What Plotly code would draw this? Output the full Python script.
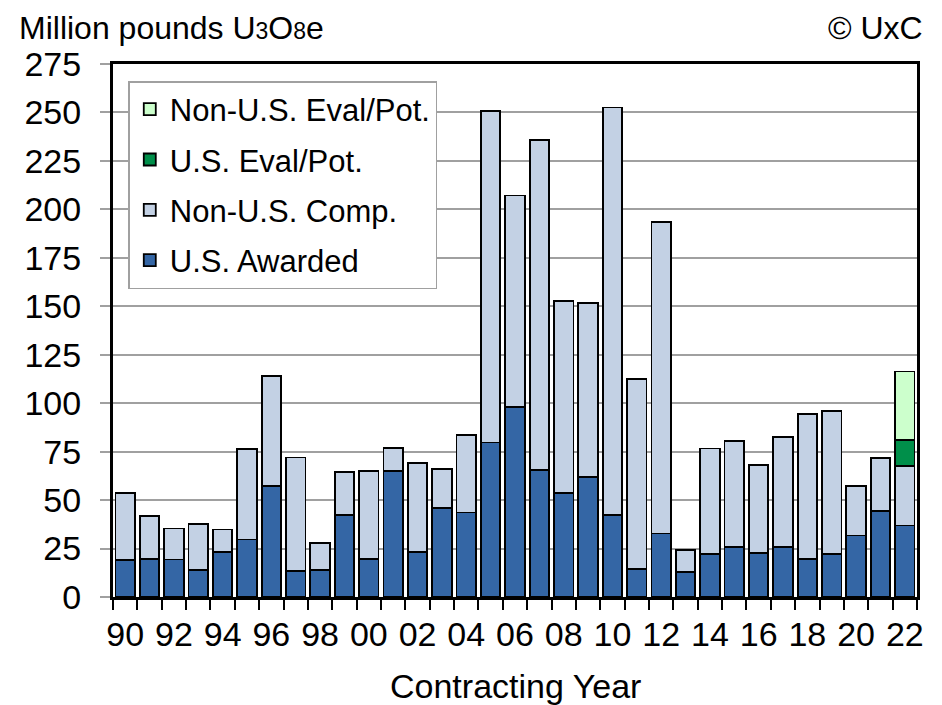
import plotly.graph_objects as go

# contracting years 1990-2022, values in million lb U3O8e
annees = [str(a)[-2:] for a in range(1990, 2023)]
etiquettes = [a if int(a) % 2 == 0 else "" for a in annees]

us_awarded = [19.0, 19.5, 19.3, 14.0, 23.3, 29.7, 57.4, 13.4, 13.8, 42.2,
              19.8, 65.0, 23.3, 45.9, 43.6, 79.7, 97.9, 65.7, 53.6, 62.0,
              42.4, 14.3, 32.8, 12.8, 22.2, 25.9, 22.8, 25.9, 19.5, 22.2,
              31.7, 44.3, 36.9]
non_us_comp = [34.6, 22.4, 16.0, 23.8, 11.5, 46.7, 56.6, 58.6, 14.1, 22.5,
               45.2, 11.9, 45.7, 20.0, 40.0, 171.2, 109.3, 170.0, 99.0, 89.6,
               210.2, 98.3, 160.6, 11.3, 54.4, 54.6, 45.3, 56.7, 75.0, 73.8,
               25.5, 27.4, 30.5]
us_eval = [None] * 32 + [13.8]
non_us_eval = [None] * 32 + [35.2]

series = [
    ("U.S. Awarded", us_awarded, "#3466a5"),
    ("Non-U.S. Comp.", non_us_comp, "#c3d1e4"),
    ("U.S. Eval/Pot.", us_eval, "#008f4a"),
    ("Non-U.S. Eval/Pot.", non_us_eval, "#ccffcc"),
]

POLICE = "Liberation Sans, Arial, sans-serif"

fig = go.Figure()
for rang, (nom, valeurs, couleur) in enumerate(series):
    fig.add_trace(go.Bar(
        x=annees, y=valeurs, name=nom, legendgroup=nom,
        legendrank=len(series) - rang,
        marker_color=couleur, marker_line_color="black", marker_line_width=1.8,
    ))

# la page ajoute 8px de marge autour du graphique
fig.update_layout(
    width=942, height=705,
    margin=dict(l=105, r=33, t=56, b=116),
    barmode="stack", bargap=0.2,
    plot_bgcolor="white", paper_bgcolor="white",
    font=dict(family=POLICE, color="black", size=34),
    showlegend=True,
    legend=dict(
        x=0.019, y=0.968, xanchor="left", yanchor="top",
        traceorder="grouped", tracegroupgap=7,
        font=dict(size=31), bgcolor="white",
        bordercolor="#a0a0a0", borderwidth=1.5,
    ),
)

fig.update_xaxes(
    type="category", tickmode="array", tickvals=annees, ticktext=etiquettes,
    tickson="boundaries", ticks="outside", ticklen=10, tickcolor="black",
    tickwidth=1.5, tickfont=dict(size=34), tickangle=0, ticklabelstandoff=5,
    showline=True, linecolor="black", linewidth=3, mirror=True,
    showgrid=False, automargin=False,
)
fig.update_yaxes(
    range=[0, 275], dtick=25, tick0=0,
    ticks="outside", ticklen=10, tickcolor="#a0a0a0", tickwidth=1.5,
    tickfont=dict(size=34), ticklabelstandoff=12,
    showgrid=True, gridcolor="#a0a0a0", gridwidth=1.5,
    showline=True, linecolor="black", linewidth=3, mirror=True,
    zeroline=False, automargin=False,
)

fig.add_annotation(
    text='Million pounds U<span style="font-size:23px">3</span>O<span style="font-size:23px">8</span>e',
    xref="paper", yref="paper", x=-0.12, y=1.105,
    xanchor="left", yanchor="top", height=36, valign="middle",
    showarrow=False, font=dict(size=32),
)
fig.add_annotation(
    text="© UxC", xref="paper", yref="paper", x=1.01, y=1.105,
    xanchor="right", yanchor="top", height=36, valign="middle",
    showarrow=False, font=dict(size=32),
)
fig.add_annotation(
    text="Contracting Year", xref="paper", yref="paper", x=0.5, y=-0.167,
    xanchor="center", yanchor="middle", showarrow=False,
    font=dict(size=34),
)

fig.write_html("out.html")
